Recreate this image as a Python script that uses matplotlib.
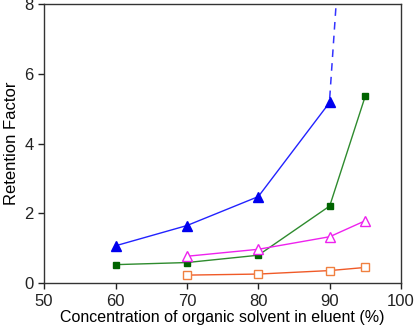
import matplotlib
matplotlib.use("Agg")
import matplotlib.pyplot as plt

plt.rcParams['font.family'] = ['Liberation Sans', 'DejaVu Sans']

# concentration of organic solvent (%)
x_blue = [60, 70, 80, 90]
y_blue = [1.07, 1.65, 2.48, 5.18]
x_blue_ext = [90, 90.9]
y_blue_ext = [5.3, 8.0]

x_green = [60, 70, 80, 90, 95]
y_green = [0.53, 0.59, 0.80, 2.21, 5.37]

x_mag = [70, 80, 90, 95]
y_mag = [0.77, 0.97, 1.33, 1.79]

x_orange = [70, 80, 90, 95]
y_orange = [0.23, 0.26, 0.36, 0.45]

fig = plt.figure(figsize=(4.2, 3.3), dpi=100)
ax = fig.add_axes([0.105, 0.142, 0.85, 0.846])

ax.plot(x_blue_ext, y_blue_ext, color='#3333ff', lw=1.1, ls=(0, (5, 4)))
ax.plot(x_blue, y_blue, color='#2222ff', lw=1, marker='^', ms=7,
        mfc='#0000ee', mec='#0000ee')
ax.plot(x_green, y_green, color='#2e8b2e', lw=1, marker='s', ms=5,
        mfc='#006400', mec='#006400')
ax.plot(x_mag, y_mag, color='#ee22ee', lw=1, marker='^', ms=7,
        mfc='white', mec='#ee22ee', mew=1)
ax.plot(x_orange, y_orange, color='#f05a28', lw=1, marker='s', ms=6,
        mfc='white', mec='#f08040', mew=1)

ax.set_xlim(50, 100)
ax.set_ylim(0, 8)
ax.set_xticks([50, 60, 70, 80, 90, 100])
ax.set_yticks([0, 2, 4, 6, 8])
ax.tick_params(direction='out', length=4, width=1, labelsize=12, colors='#222222')
for s in ax.spines.values():
    s.set_color('#333333')
    s.set_linewidth(1)

ax.set_xlabel('Concentration of organic solvent in eluent (%)', fontsize=11.5, labelpad=1)
ax.set_ylabel('Retention Factor', fontsize=12, labelpad=4)

fig.savefig('out.png', dpi=100)
